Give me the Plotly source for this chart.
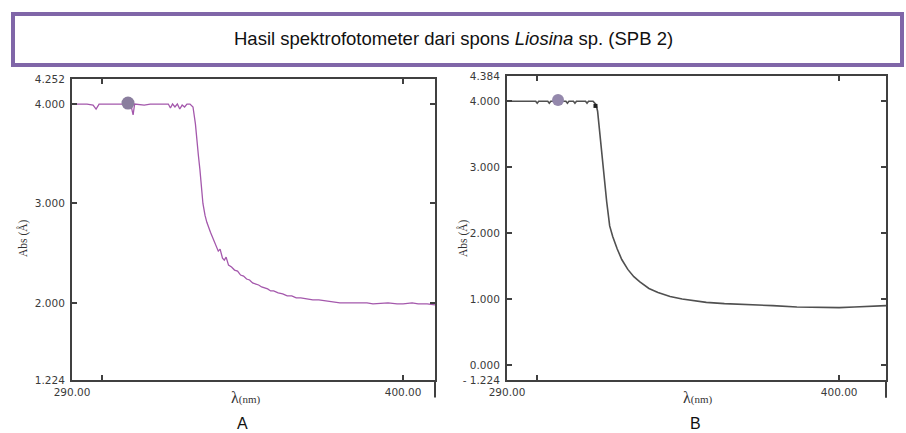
import plotly.graph_objects as go

# ---------------- data ----------------
title_text = "Hasil spektrofotometer dari spons <i>Liosina</i> sp. (SPB 2)"

# Panel A (purple spectrum)
a_wavelength = [290, 295, 297, 298, 299, 305, 309, 309.8, 310.3, 310.8, 314, 316, 322,
                322.7, 323.4, 324.2, 325, 325.8, 326.6, 327.4, 328.2, 329.2, 330.2,
                331, 331.5, 332, 332.5, 333, 333.5, 334.2, 334.8, 336, 337, 338,
                338.6, 339.2, 340, 340.6, 341.2, 342, 343, 344, 345, 346, 347, 348,
                349, 350, 351, 352, 353, 354, 355, 356, 357, 358.5, 360, 361.5, 363,
                364.5, 366, 368, 370, 372, 374, 376, 377, 379, 381, 383, 385, 388,
                390, 393, 395, 398, 400, 403, 405, 408, 410.6]
a_abs = [4.00, 4.00, 3.99, 3.95, 4.00, 4.00, 4.00, 3.96, 3.89, 4.00, 3.99, 4.00, 4.00,
         3.96, 4.00, 3.97, 4.00, 3.95, 3.99, 3.97, 4.00, 4.00, 3.97,
         3.80, 3.67, 3.48, 3.34, 3.15, 3.00, 2.88, 2.81, 2.71, 2.64, 2.57,
         2.52, 2.54, 2.45, 2.43, 2.46, 2.38, 2.36, 2.33, 2.32, 2.28, 2.27, 2.24,
         2.23, 2.20, 2.19, 2.18, 2.16, 2.15, 2.14, 2.12, 2.12, 2.10, 2.09, 2.07, 2.07,
         2.05, 2.05, 2.04, 2.03, 2.03, 2.02, 2.01, 2.01, 2.00, 2.00, 2.00, 2.00, 2.00,
         1.99, 2.00, 2.00, 1.99, 1.99, 2.00, 1.99, 1.99, 1.98]

a_marker_wavelength = [308.6]
a_marker_abs = [4.01]

# Panel B (grey spectrum)
b_wavelength = [290, 299.5, 300, 300.5, 303.5, 304, 304.5, 308, 309.5, 310, 310.5,
                312, 312.5, 313, 316, 316.5, 317, 318.5, 319.5, 320, 320.8, 321.8,
                323, 324, 325, 326.5, 328, 330, 332, 334, 337, 340, 344, 348, 352,
                356, 362, 370, 378, 386, 394.6, 400, 405, 410, 415.5]
b_abs = [4.00, 4.00, 3.97, 4.00, 4.00, 3.97, 4.00, 4.00, 4.00, 3.97, 4.00,
         4.00, 3.97, 4.00, 4.00, 3.97, 4.00, 4.00, 3.95, 3.85, 3.47, 2.99,
         2.48, 2.11, 1.95, 1.76, 1.60, 1.45, 1.34, 1.26, 1.16, 1.10, 1.04, 1.00, 0.97,
         0.95, 0.93, 0.92, 0.90, 0.88, 0.87, 0.87, 0.88, 0.89, 0.90]

b_marker_wavelength = [306.9]
b_marker_abs = [4.02]
b_knee_wavelength = [319.3]
b_knee_abs = [3.93]

# axis ranges and ticks
a_x_range = [290, 410.6]
a_y_range = [1.224, 4.252]
b_x_range = [290, 415.5]
b_y_range = [-0.228, 4.384]

x_tickvals = [290, 300, 400]
x_ticktext = ["290.00", "", "400.00"]
a_y_tickvals = [1.224, 2, 3, 4, 4.252]
a_y_ticktext = ["1.224", "2.000", "3.000", "4.000", "4.252"]
b_y_tickvals = [-0.228, 0, 1, 2, 3, 4, 4.384]
b_y_ticktext = ["- 1.224", "0.000", "1.000", "2.000", "3.000", "4.000", "4.384"]

panel_labels = ["A", "B"]
x_title = "λ<span style='font-size:11px'>(nm)</span>"
y_title = "Abs (Å)"

# ---------------- figure ----------------
W, H = 906, 433
def px(x):
    return x / W
def py(y):
    return 1 - y / H

fig = go.Figure()

fig.add_trace(go.Scatter(x=a_wavelength, y=a_abs, mode="lines",
                         line=dict(color="#a458ac", width=1.3),
                         xaxis="x", yaxis="y", showlegend=False, hoverinfo="skip"))
fig.add_trace(go.Scatter(x=a_marker_wavelength, y=a_marker_abs, mode="markers",
                         marker=dict(color="#8a7e9e", size=13, symbol="circle"),
                         xaxis="x", yaxis="y", showlegend=False, hoverinfo="skip"))

fig.add_trace(go.Scatter(x=b_wavelength, y=b_abs, mode="lines",
                         line=dict(color="#505050", width=1.6),
                         xaxis="x2", yaxis="y2", showlegend=False, hoverinfo="skip"))
fig.add_trace(go.Scatter(x=b_marker_wavelength, y=b_marker_abs, mode="markers",
                         marker=dict(color="#9488ac", size=12, symbol="circle"),
                         xaxis="x2", yaxis="y2", showlegend=False, hoverinfo="skip"))
fig.add_trace(go.Scatter(x=b_knee_wavelength, y=b_knee_abs, mode="markers",
                         marker=dict(color="#202020", size=4, symbol="square"),
                         xaxis="x2", yaxis="y2", showlegend=False, hoverinfo="skip"))

tick_font = dict(family="DejaVu Sans", size=10.5, color="#3a3a3a")
axis_common = dict(showgrid=False, zeroline=False, showline=True, linecolor="#404040",
                   linewidth=2, mirror="allticks", ticks="inside", ticklen=5,
                   tickcolor="#404040", tickwidth=1.5, tickfont=tick_font,
                   fixedrange=True)

fig.update_layout(
    width=W, height=H,
    margin=dict(l=0, r=0, t=0, b=0, autoexpand=False),
    paper_bgcolor="white", plot_bgcolor="white",
    showlegend=False,
    xaxis=dict(domain=[px(72), px(435)], range=a_x_range, anchor="y",
               tickmode="array", tickvals=x_tickvals, ticktext=x_ticktext,
               ticklabelstandoff=1, **axis_common),
    yaxis=dict(domain=[py(380), py(79)], range=a_y_range, anchor="x",
               tickmode="array", tickvals=a_y_tickvals, ticktext=a_y_ticktext,
               ticklabelstandoff=3, **axis_common),
    xaxis2=dict(domain=[px(507), px(886)], range=b_x_range, anchor="y2",
                tickmode="array", tickvals=x_tickvals, ticktext=x_ticktext,
                ticklabelstandoff=1, **axis_common),
    yaxis2=dict(domain=[py(380), py(76)], range=b_y_range, anchor="x2",
                tickmode="array", tickvals=b_y_tickvals, ticktext=b_y_ticktext,
                ticklabelstandoff=3, **axis_common),
)

# title box
fig.add_shape(type="rect", xref="paper", yref="paper",
              x0=px(13), x1=px(902), y0=py(65), y1=py(14),
              line=dict(color="#8066a8", width=4), fillcolor="white", layer="below")
fig.add_annotation(text=title_text, xref="paper", yref="paper",
                   x=px(453), y=py(39), showarrow=False,
                   font=dict(family="Liberation Sans", size=18.5, color="#111111"),
                   xanchor="center", yanchor="middle")

# right border extensions below the x axes
for xa, ya in [("x", "y"), ("x2", "y2")]:
    fig.add_shape(type="line", xref=f"{xa} domain", yref=f"{ya} domain",
                  x0=1, x1=1, y0=0, y1=-0.058,
                  line=dict(color="#404040", width=2))

# axis titles and panel labels
for cx, lbl in zip([245, 697], panel_labels):
    fig.add_annotation(text=x_title, xref="paper", yref="paper", x=px(cx), y=py(397),
                       showarrow=False, font=dict(family="Liberation Serif", size=16, color="#333333"),
                       xanchor="center", yanchor="middle")
    fig.add_annotation(text=lbl, xref="paper", yref="paper", x=px(cx - 2), y=py(423),
                       showarrow=False, font=dict(family="Liberation Sans", size=16, color="#111111"),
                       xanchor="center", yanchor="middle")

for cx in [23, 463]:
    fig.add_annotation(text=y_title, xref="paper", yref="paper", x=px(cx), y=py(238),
                       showarrow=False, textangle=-90,
                       font=dict(family="Liberation Serif", size=11.5, color="#333333"),
                       xanchor="center", yanchor="middle")

fig.write_html("out.html", config={"displayModeBar": False},
               post_script="document.body.style.margin='0';document.body.style.overflow='hidden';")
